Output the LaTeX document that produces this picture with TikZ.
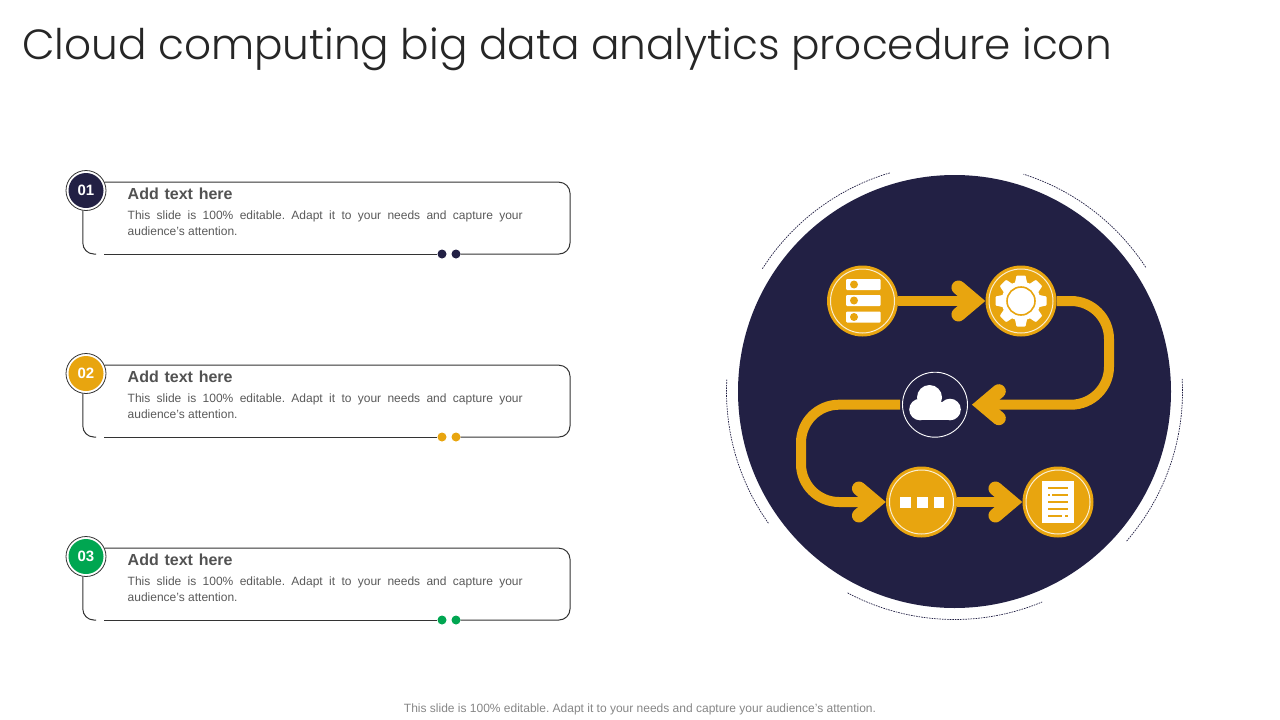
\documentclass[tikz,border=0pt]{standalone}
\usepackage{fontspec}
\setmainfont{Liberation Sans}
\newfontfamily\titlefont{Poppins Light}
\newfontfamily\headfont[WordSpace=1.3]{Liberation Sans}
\usetikzlibrary{arrows.meta}
\hyphenpenalty=10000
\frenchspacing
\definecolor{navy}{HTML}{222044}
\definecolor{amber}{HTML}{E8A50F}
\definecolor{leaf}{HTML}{00A651}
\definecolor{ink}{HTML}{333333}
\definecolor{bodygray}{HTML}{595959}
\tikzset{
  iconbase/.style={circle,fill=amber,minimum size=71pt,inner sep=0pt},
  flowline/.style={amber,line width=10pt,rounded corners=38pt,-{Straight Barb[length=16pt,width=27pt,line width=14pt,line cap=round,line join=miter]}},
  cardline/.style={ink,line width=1pt},
  numring/.style={circle,draw=ink,line width=0.8pt,fill=white,minimum size=40pt,inner sep=0pt},
  numdisc/.style={circle,minimum size=35pt,inner sep=0pt,text=white,font=\bfseries\fontsize{15}{15}\selectfont},
  carddot/.style={circle,minimum size=9pt,inner sep=0pt},
  headtext/.style={anchor=west,inner sep=0pt,text=ink!85,font=\headfont\bfseries\fontsize{16}{16}\selectfont},
  bodytext/.style={anchor=north west,inner sep=0pt,text width=395pt,align=justify,text=bodygray,font=\fontsize{12}{16}\selectfont},
  haloarc/.style={navy,line width=0.7pt,dash pattern=on 1.6pt off 1pt},
}
\begin{document}
\begin{tikzpicture}[x=1pt,y=-1pt]
    \useasboundingbox (0,0) rectangle (1280,720);
    \node[anchor=base west,inner sep=0pt,text=black!85,font=\titlefont\fontsize{42.2}{45}\selectfont] (title) at (22,59.5) {Cloud computing big data analytics procedure icon};
    % text cards
    \foreach \n/\y/\col in {01/0/navy,02/183/amber,03/366/leaf}{
        \node[numring] (ring\n) at (86,\y+190.5) {};
        \node[numdisc,fill=\col] (num\n) at (ring\n) {\n};
        \node[carddot,fill=\col] (dotl\n) at (442,\y+254) {};
        \node[carddot,fill=\col] (dotr\n) at (456,\y+254) {};
        \coordinate (corner\n) at (570,\y+254);
        \coordinate (tail\n) at (96,\y+254);
        \coordinate (start\n) at (104,\y+254);
        \draw[cardline,rounded corners=11pt] (ring\n.24) -| (corner\n) -- (dotr\n);
        \draw[cardline,rounded corners=11pt] (ring\n.-99) |- (tail\n);
        \draw[cardline] (start\n) -- (dotl\n);
        \node[headtext] (head\n) at (127.5,\y+193.5) {Add text here};
        \node[bodytext] (body\n) at (127.5,\y+211) {This slide is 100\% editable. Adapt it to your needs and capture your audience's attention.};
    }
    % big disc
    \node[circle,fill=navy,minimum size=433pt,inner sep=0pt] (disc) at (954.5,391.5) {};
    \begin{scope}[shift={(954.5,391.5)}]
        \foreach \a/\b in {106.5/147.6,33/72.4,-41/3.4,-118/-67.4,177/215.4}
            \draw[haloarc] (\a:228pt) arc[start angle=\a,end angle=\b,radius=228pt];
    \end{scope}
    % icons
    \node[iconbase] (server) at (862.5,301) {};
    \node[iconbase] (gear) at (1021,301) {};
    \node[circle,draw=white,line width=0.9pt,minimum size=65pt,inner sep=0pt] (cloud) at (935,404.7) {};
    \node[iconbase] (dots) at (921.5,502) {};
    \node[iconbase] (doc) at (1058,502) {};
    \foreach \n in {server,gear,dots,doc}
        \draw[white!80!amber,line width=1pt] (\n.center) circle (32pt);
    \coordinate (righttop) at (1109,301);
    \coordinate (rightlow) at (1109,404.7);
    \coordinate (lefttop) at (801,404.7);
    \coordinate (leftlow) at (801,502);
    \draw[flowline] (server.east) -- (gear.west);
    \draw[flowline,shorten >=4pt] (gear.east) -- (righttop) -- (rightlow) -- (cloud.east);
    \draw[flowline,shorten <=2pt] (cloud.west) -- (lefttop) -- (leftlow) -- (dots.west);
    \draw[flowline] (dots.east) -- (doc.west);
    % server
    \foreach \y in {284.5,300.5,317}{
        \fill[white,rounded corners=1pt] (846,\y-5.5) rectangle (880.5,\y+5.5);
        \fill[amber] (854,\y) circle (4pt);
    }
    % gear
    \begin{scope}[shift={(1021,301)}]
        \fill[white] (0,0) circle (19.5pt);
        \foreach \a in {0,45,...,315}
            \fill[white,rotate=\a,rounded corners=0.8pt] (-6.5,-16) -- (-4.5,-25.5) -- (4.5,-25.5) -- (6.5,-16) -- cycle;
        \draw[amber,line width=1.6pt] (0,0) circle (14pt);
    \end{scope}
    % cloud
    \fill[white] (929.5,397.5) circle (12.5pt) (920,409.5) circle (10.8pt) (950,409.5) circle (10.8pt);
    \fill[white] (920,402) rectangle (950,420.3);
    % three squares
    \foreach \x in {900,917,933.5}
        \fill[white] (\x,497) rectangle (\x+10.5,507.5);
    % page
    \fill[white] (1042,481) rectangle (1074,523);
    \foreach \y/\a/\b in {488/1048/1068,495/1052/1068,502/1048/1068,509/1048/1068,516/1048/1062}
        \draw[amber,line width=1.6pt] (\a,\y) -- (\b,\y);
    \draw[amber,line width=1.6pt] (1048,495) -- (1050,495) (1065,516) -- (1068,516);
    \node[inner sep=0pt,text=gray!95,font=\fontsize{12}{12}\selectfont] (footer) at (640,709) {This slide is 100\% editable. Adapt it to your needs and capture your audience's attention.};
\end{tikzpicture}
\end{document}
